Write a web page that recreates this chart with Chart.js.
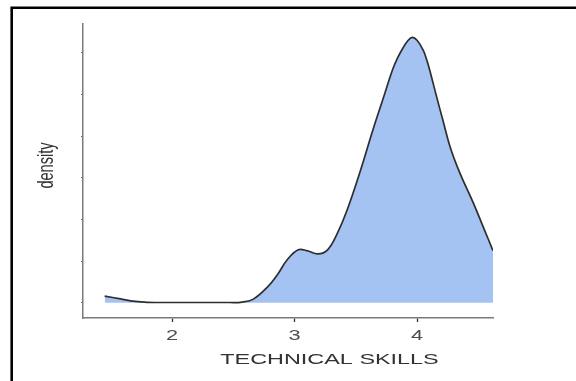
<!DOCTYPE html>
<html>
<head>
<meta charset="utf-8">
<script src="https://cdn.jsdelivr.net/npm/chart.js@4/dist/chart.umd.min.js"></script>
<style>
  html, body { margin: 0; padding: 0; background: #ffffff; }
  #wrap { width: 576px; height: 381px; position: relative; }
</style>
</head>
<body>
<div id="wrap"><canvas id="c" width="576" height="381"></canvas></div>
<script>
// Kernel density estimate of the technical-skills scores
const skillScores = [1.45, 1.58, 1.70, 1.80, 1.98, 2.23, 2.47, 2.56, 2.66, 2.78, 2.86, 2.94,
  3.03, 3.10, 3.19, 3.27, 3.35, 3.43, 3.54, 3.64, 3.72, 3.80, 3.84, 3.88, 3.92, 3.96,
  4.00, 4.05, 4.08, 4.11, 4.16, 4.21, 4.27, 4.35, 4.46, 4.54, 4.62];
const densityValues = [0.016, 0.009, 0.003, 0.001, 0.0005, 0.0005, 0.0005, 0.001, 0.008, 0.038, 0.067, 0.103,
  0.127, 0.125, 0.117, 0.127, 0.167, 0.223, 0.319, 0.415, 0.487, 0.559, 0.587, 0.609, 0.627, 0.637,
  0.630, 0.606, 0.582, 0.551, 0.494, 0.439, 0.374, 0.311, 0.239, 0.182, 0.125];
const xTickValues = [2, 3, 4];
const yTickValues = [0, 0.1, 0.2, 0.3, 0.4, 0.5, 0.6];
const xTitle = 'TECHNICAL SKILLS';
const yTitle = 'density';

const points = skillScores.map((x, i) => ({ x: x, y: densityValues[i] }));

// Frame and horizontally stretched axis texts
const decorations = {
  id: 'decorations',
  beforeDraw(chart) {
    const ctx = chart.ctx;
    ctx.save();
    ctx.fillStyle = '#ffffff';
    ctx.fillRect(0, 0, chart.width, chart.height);
    ctx.restore();
  },
  afterDraw(chart) {
    const ctx = chart.ctx;
    const xs = chart.scales.x;
    ctx.save();
    // outer frame (left and top edges)
    ctx.strokeStyle = '#000000';
    ctx.lineWidth = 2.6;
    ctx.beginPath();
    ctx.moveTo(11.7, 381);
    ctx.lineTo(11.7, 7.7);
    ctx.lineTo(576, 7.7);
    ctx.stroke();

    // x tick labels
    ctx.fillStyle = '#4d4d4d';
    ctx.textAlign = 'center';
    ctx.textBaseline = 'middle';
    ctx.font = '14.5px "Liberation Sans", Arial, sans-serif';
    xTickValues.forEach(v => {
      const px = xs.getPixelForValue(v);
      ctx.save();
      ctx.translate(px, 336);
      ctx.scale(1.5, 1);
      ctx.fillText(String(v), 0, 0);
      ctx.restore();
    });

    // x axis title
    ctx.fillStyle = '#333333';
    ctx.font = '15.4px "Liberation Sans", Arial, sans-serif';
    ctx.save();
    ctx.translate(329.5, 360);
    ctx.scale(1.52, 1);
    ctx.fillText(xTitle, 0, 0);
    ctx.restore();

    // y axis title
    ctx.font = '14.6px "Liberation Sans", Arial, sans-serif';
    ctx.save();
    ctx.translate(47.5, 165.5);
    ctx.rotate(-Math.PI / 2);
    ctx.scale(1, 1.45);
    ctx.fillText(yTitle, 0, 0);
    ctx.restore();
    ctx.restore();
  }
};

new Chart(document.getElementById('c'), {
  type: 'line',
  data: {
    datasets: [{
      data: points,
      borderColor: '#2e2e2e',
      borderWidth: 1.7,
      backgroundColor: '#a4c3f2',
      fill: 'origin',
      pointRadius: 0,
      tension: 0.4
    }]
  },
  options: {
    responsive: false,
    animation: false,
    devicePixelRatio: 1,
    layout: { padding: { left: 0, right: 83, top: 24, bottom: 0 } },
    plugins: { legend: { display: false }, tooltip: { enabled: false } },
    scales: {
      x: {
        type: 'linear',
        min: 1.273,
        max: 4.62,
        afterBuildTicks: s => { s.ticks = xTickValues.map(v => ({ value: v })); },
        afterFit: s => { s.height = 63; },
        ticks: { display: false },
        grid: { drawOnChartArea: false, drawTicks: true, tickLength: 4, tickColor: '#333333', tickWidth: 1.3 },
        border: { display: true, color: '#7a7a7a', width: 1.5 }
      },
      y: {
        type: 'linear',
        min: -0.0367,
        max: 0.669,
        afterBuildTicks: s => { s.ticks = yTickValues.map(v => ({ value: v })); },
        afterFit: s => { s.width = 83; },
        ticks: { display: false },
        grid: { drawOnChartArea: false, drawTicks: true, tickLength: 2, tickColor: '#666666', tickWidth: 1 },
        border: { display: true, color: '#7a7a7a', width: 1.5 }
      }
    }
  },
  plugins: [decorations]
});
</script>
</body>
</html>
